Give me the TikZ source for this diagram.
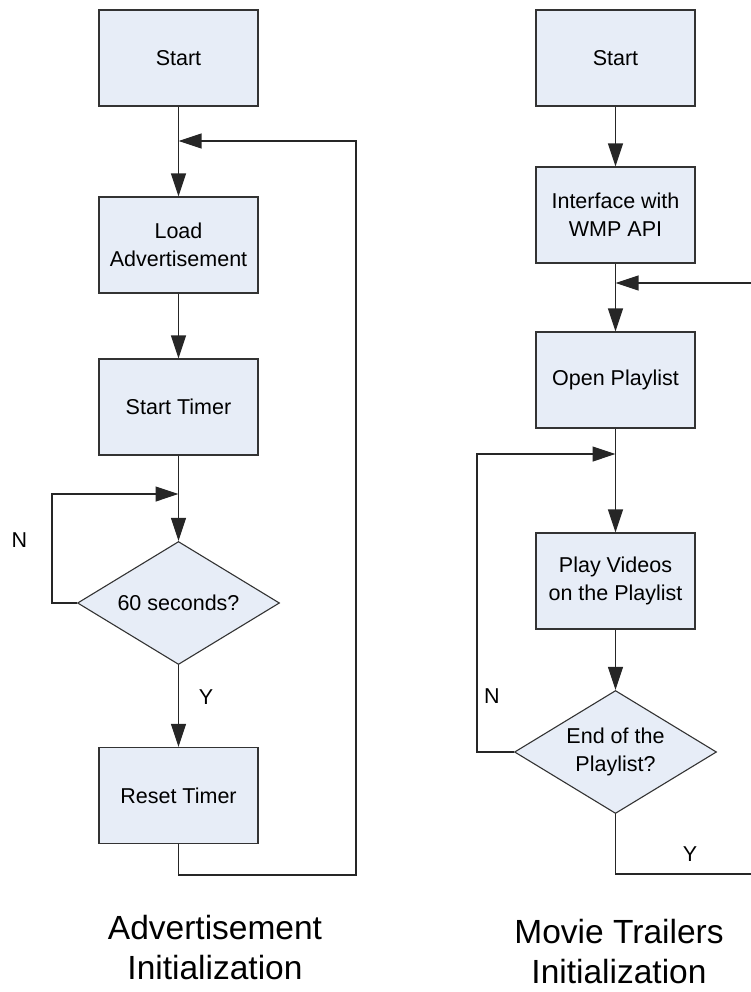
\documentclass[tikz,border=0pt]{standalone}
\usepackage{fontspec}
\setmainfont{Liberation Sans}
\usetikzlibrary{shapes.geometric,arrows.meta}
\definecolor{boxfill}{HTML}{E7EDF7}
\definecolor{boxline}{HTML}{333333}
\tikzset{
  stepbox/.style={draw=boxline, fill=boxfill, line width=1.1pt,
    minimum width=159pt, minimum height=96pt, inner sep=0pt, align=center,
    font=\fontsize{21.5}{28}\selectfont},
  decision/.style={diamond, draw=boxline, fill=boxfill, line width=1.1pt,
    minimum width=202pt, minimum height=123pt, aspect=1.64, inner sep=0pt,
    align=center, font=\fontsize{21.5}{28}\selectfont},
  flow/.style={draw=black!85, line width=1.2pt},
  tip/.style={flow, -{Triangle[length=23pt,width=15pt]}},
  lbl/.style={font=\fontsize{21.5}{26}\selectfont, inner sep=0pt},
  caption/.style={font=\fontsize{33.5}{40}\selectfont, align=center, inner sep=0pt}
}
\begin{document}
\begin{tikzpicture}[x=1pt,y=-1pt]
\useasboundingbox (0,0) rectangle (751,992);
\clip (0,0) rectangle (751,992);

% ---- Advertisement initialization ----
\node[stepbox] (s1) at (178.5,58) {Start};
\node[stepbox] (l1) at (178.5,245) {Load\\Advertisement};
\node[stepbox] (t1) at (178.5,407) {Start Timer};
\node[decision] (d1) at (178.5,603) {60 seconds?};
\node[stepbox] (r1) at (178.5,795.5) {Reset Timer};

\coordinate (j1) at (178.5,141);
\coordinate (j2) at (178.5,494);
\coordinate (c1) at (356,875);
\coordinate (c2) at (52,494);

\draw[flow] (s1.south) -- (j1);
\draw[tip] (j1) -- (l1.north);
\draw[tip] (l1.south) -- (t1.north);
\draw[flow] (t1.south) -- (j2);
\draw[tip] (j2) -- (d1.north);
\draw[tip] (d1.south) -- (r1.north);
\draw[tip] (r1.south) |- (c1) |- (j1);
\draw[tip] (d1.west) -| (c2) -- (j2);

\node[lbl] (n1) at (19.5,540) {N};
\node[lbl] (y1) at (206,697) {Y};

\node[caption] (cap1) at (215,948) {Advertisement\\Initialization};

% ---- Movie trailers initialization ----
\node[stepbox] (s2) at (615.5,58) {Start};
\node[stepbox] (i2) at (615.5,215) {Interface with\\WMP API};
\node[stepbox] (o2) at (615.5,380) {Open Playlist};
\node[stepbox] (p2) at (615.5,581) {Play Videos\\on the Playlist};
\node[decision] (d2) at (615.5,752) {End of the\\Playlist?};

\coordinate (j3) at (615.5,283);
\coordinate (j4) at (615.5,454);
\coordinate (c3) at (760,874);
\coordinate (c4) at (477,454);

\draw[tip] (s2.south) -- (i2.north);
\draw[flow] (i2.south) -- (j3);
\draw[tip] (j3) -- (o2.north);
\draw[flow] (o2.south) -- (j4);
\draw[tip] (j4) -- (p2.north);
\draw[tip] (p2.south) -- (d2.north);
\draw[tip] (d2.south) |- (c3) |- (j3);
\draw[tip] (d2.west) -| (c4) -- (j4);

\node[lbl] (n2) at (492,696) {N};
\node[lbl] (y2) at (690,854) {Y};

\node[caption] (cap2) at (619,952) {Movie Trailers\\Initialization};
\end{tikzpicture}
\end{document}
